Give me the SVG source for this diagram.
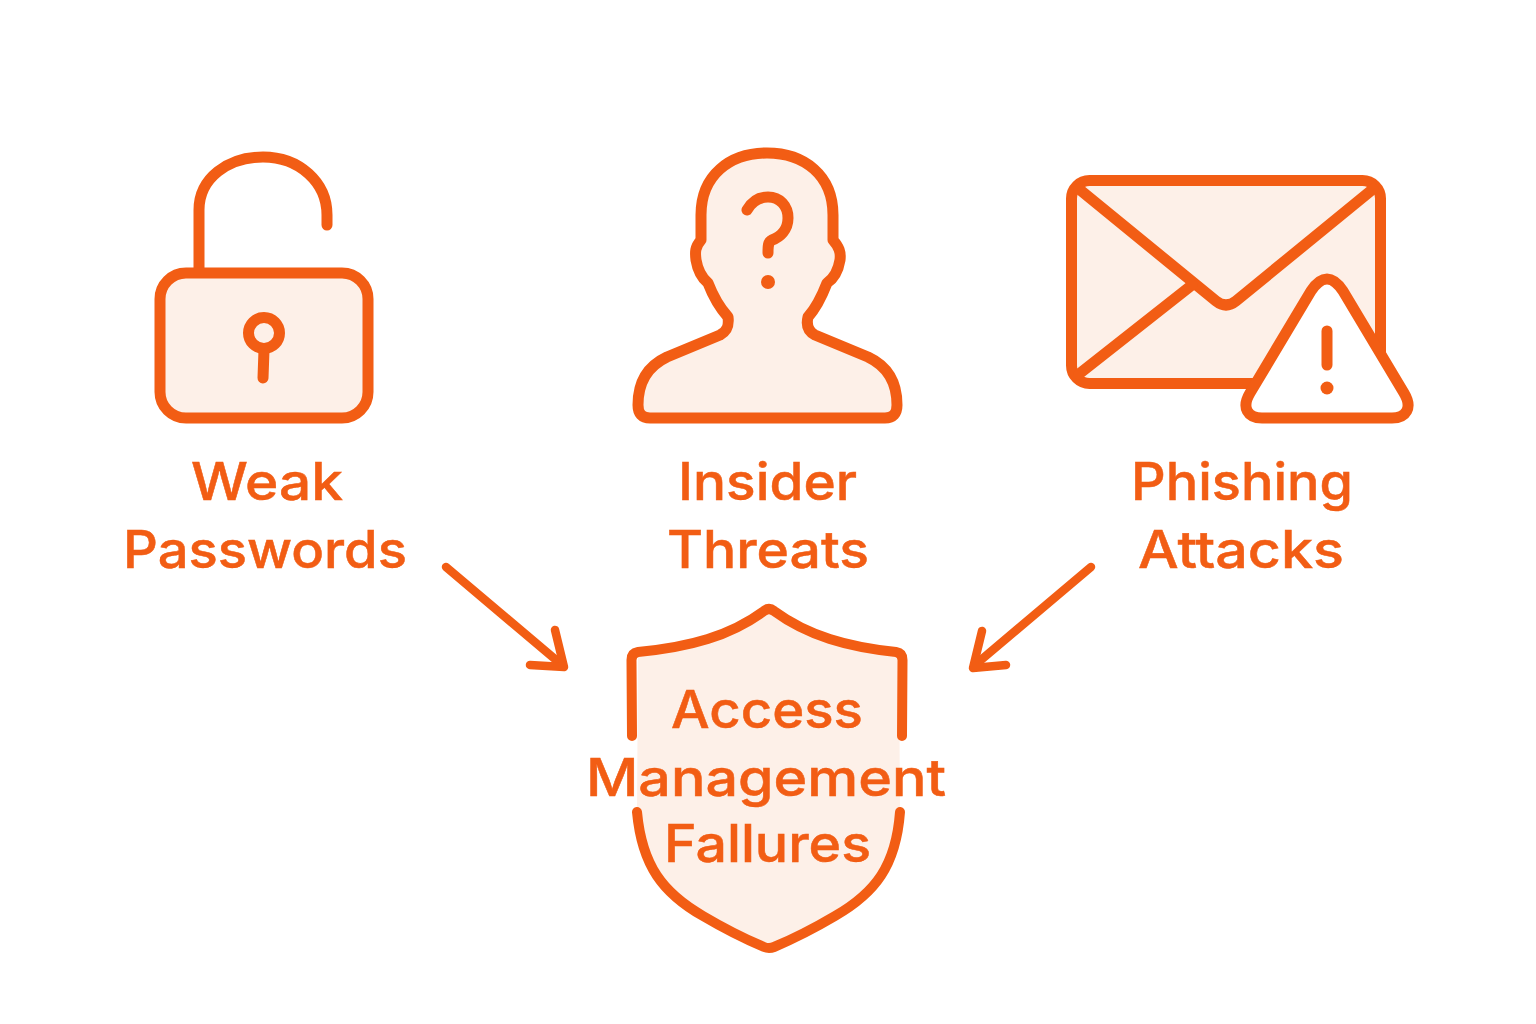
<svg xmlns="http://www.w3.org/2000/svg" width="1536" height="1024" viewBox="0 0 1536 1024">
<style>
.s{fill:none;stroke:#F25D14;stroke-width:11;stroke-linecap:round;stroke-linejoin:round}
.f{fill:#FDF0E8;stroke:#F25D14;stroke-width:11;stroke-linecap:round;stroke-linejoin:round}
.n{stroke-width:10}
.a{fill:none;stroke:#F25D14;stroke-width:8.5;stroke-linecap:round;stroke-linejoin:round}
.d{fill:#F25D14}
text{font-family:"Inter","Noto Sans",sans-serif;font-weight:500;font-size:52px;fill:#F25D14;stroke:#F25D14;stroke-width:0.5;text-anchor:start}
</style>
<rect width="1536" height="1024" fill="#FFFFFF"/>
<g id="node-weak-passwords">
<path class="s" d="M199 270V210C199 178 228 157 263 157C299 157 327 182 327 215V225"/>
<rect class="f" x="160" y="273" width="208" height="145" rx="26"/>
<circle class="s" cx="264" cy="333" r="15.5"/>
<path class="s" d="M264 350L263 378"/>
<text x="191" y="500" textLength="152" lengthAdjust="spacingAndGlyphs">Weak</text>
<text x="123" y="568" textLength="284" lengthAdjust="spacingAndGlyphs">Passwords</text>
</g>
<g id="node-insider-threats">
<path class="f" d="M767 153C730 153 701 175 701 215V240C695 247 695 252 696 260C698 272 702 278 708 283C713 296 720 308 728 317C729 325 728 331 720 335L667 357C650 365 638 380 638 405Q638 418 650 418H885Q897 418 897 405C897 380 885 365 868 357L815 335C808 331 806 325 808 317C816 308 822 296 827 283C833 279 838 272 840 260C841 252 839 247 833 240V215C833 175 804 153 767 153Z"/>
<path class="s" d="M747 210C752 201 760 197 768 197C780 197 788 206 788 218C788 230 780 237 772 240C768 242 768 246 768 253"/>
<circle class="d" cx="768" cy="282" r="7"/>
<text x="678" y="500" textLength="179" lengthAdjust="spacingAndGlyphs">Insider</text>
<text x="667" y="568" textLength="202" lengthAdjust="spacingAndGlyphs">Threats</text>
</g>
<g id="node-phishing-attacks">
<rect class="f" x="1071.5" y="180.5" width="309" height="203" rx="18"/>
<path class="s" d="M1079 189L1216 301Q1226 309 1236 301L1373 189"/>
<path class="s" d="M1079 374L1192 285"/>
<path d="M1311 291Q1319 279 1327 279Q1335 279 1343 291L1404 393C1413 408 1406 418 1392 418H1262C1248 418 1241 408 1250 393Z" fill="#FFFFFF" stroke="#F25D14" stroke-width="11" stroke-linejoin="round"/>
<path class="s" d="M1327 331V365"/>
<circle class="d" cx="1327" cy="388" r="6.5"/>
<text x="1131" y="500" textLength="222" lengthAdjust="spacingAndGlyphs">Phishing</text>
<text x="1138" y="568" textLength="206" lengthAdjust="spacingAndGlyphs">Attacks</text>
</g>
<g id="connectors">
<path class="a" d="M446 567L562 665"/>
<path class="a" d="M555 630L564 667L530 665"/>
<path class="a" d="M1091 567L975 665"/>
<path class="a" d="M982 631L973 668L1006 665"/>
</g>
<g id="node-access-management-failures">
<path d="M769 608C730 636 690 646 638 652L637 812C642 880 680 915 769 947C858 915 896 880 900 812L899 652C848 646 808 636 769 608Z" fill="#FDF0E8"/>
<path class="s n" d="M632 736L631.500 660Q631.500 653 638 652C690 647 730 636 764 611Q769 607 774 611C808 636 848 647 896 652Q902.500 653 902.500 660L902 736"/>
<path class="s n" d="M637 812C642 866 663 893 703 916C725 929 745 939 764 947Q769 949 774 947C793 939 813 929 835 916C875 893 896 866 900 812"/>
<text x="671" y="728" textLength="192" lengthAdjust="spacingAndGlyphs">Access</text>
<text x="586" y="796" textLength="360" lengthAdjust="spacingAndGlyphs">Management</text>
<text x="664" y="862" textLength="207" lengthAdjust="spacingAndGlyphs">Fallures</text>
</g>
</svg>
